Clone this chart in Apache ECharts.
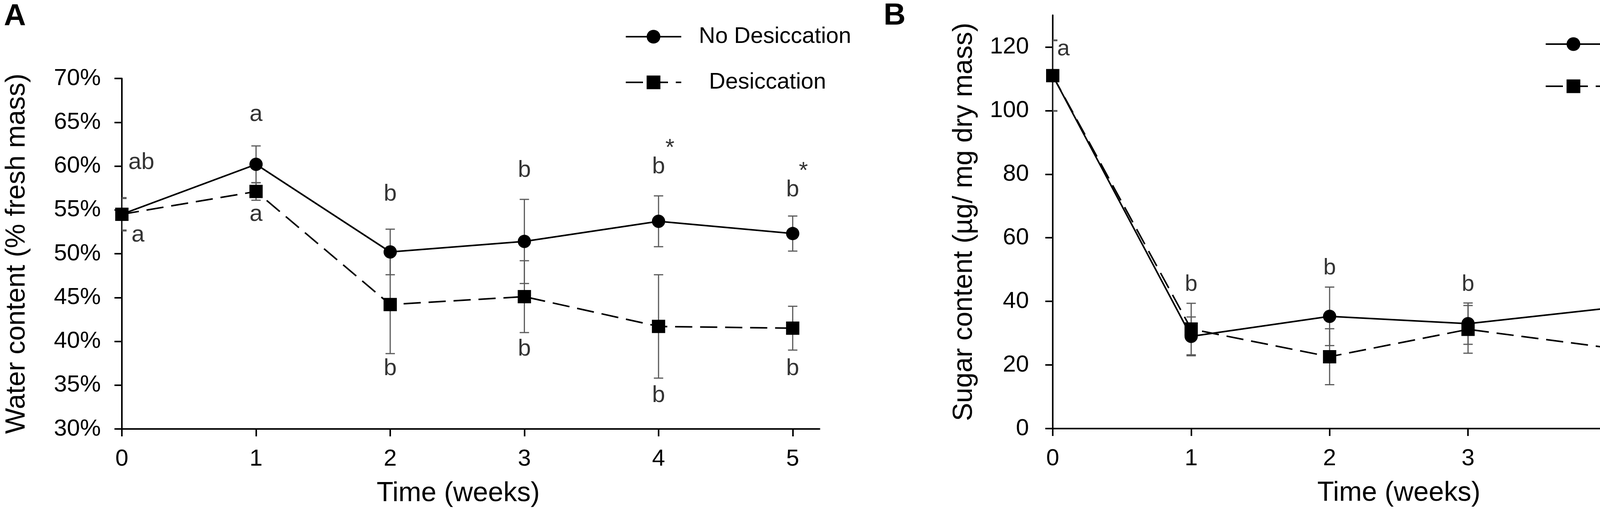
<!DOCTYPE html>
<html>
<head>
<meta charset="utf-8">
<script src="https://cdn.jsdelivr.net/npm/echarts@6/dist/echarts.min.js"></script>
<style>
  html, body { margin: 0; padding: 0; background: #fff; }
  #chart { width: 4550px; height: 1322px; }
</style>
</head>
<body>
<div id="chart"></div>
<script>
// panel A: water content (% fresh mass)
const weeksA = [0, 1, 2, 3, 4, 5];
const waterNoDes = [54.5, 60.2, 50.2, 51.4, 53.7, 52.3];
const waterNoDesErr = [1.9, 2.1, 2.6, 4.8, 2.9, 2.0];
const waterDes = [54.5, 57.1, 44.2, 45.1, 41.7, 41.5];
const waterDesErr = [1.8, 1.0, 5.6, 4.1, 5.9, 2.5];
// letters above / below points: [week, y, text]
const lettersA = [
  [0.145, 60.4, 'ab'], [0.12, 52.1, 'a'],
  [1, 65.9, 'a'], [1, 54.5, 'a'],
  [2, 56.8, 'b'], [2, 36.9, 'b'],
  [3, 59.5, 'b'], [3, 39.1, 'b'],
  [4, 59.9, 'b'], [4, 33.8, 'b'], [4.085, 62.0, '*'],
  [5, 57.3, 'b'], [5, 36.9, 'b'], [5.08, 59.4, '*']
];

// panel B: sugar content (µg/ mg dry mass)
const weeksB = [0, 1, 2, 3, 5];
const sugarNoDes = [111, 29.0, 35.3, 33.0, 42.6];
const sugarNoDesErr = [11.2, 6.1, 9.2, 6.5, 4.6];
const sugarDes = [111, 31.3, 22.6, 31.2, 19.8];
const sugarDesErr = [11.0, 8.1, 8.8, 7.5, 0.6];
const lettersB = [
  [0.077, 119.3, 'a'], [1, 45.3, 'b'], [2, 50.4, 'b'], [3, 45.3, 'b'], [5, 52.8, 'b']
];

const ticksA = [0, 1, 2, 3, 4, 5];
const ticksAy = [30, 35, 40, 45, 50, 55, 60, 65, 70];
const ticksBy = [0, 20, 40, 60, 80, 100, 120];

const FONT = "'Liberation Sans', Arial, sans-serif";
const BLACK = '#000';
const DASH = [44, 20];

function pairs(xs, ys) {
  return xs.map((x, i) => [x, ys[i]]);
}
function triples(xs, ys, es) {
  return xs.map((x, i) => [x, ys[i], es[i]]);
}

function errorBars(params, api) {
  const x = api.value(0), y = api.value(1), e = api.value(2);
  const top = api.coord([x, y + e]);
  const bot = api.coord([x, y - e]);
  const half = 12;
  const style = { stroke: '#5a5a5a', lineWidth: 3 };
  return {
    type: 'group',
    children: [
      { type: 'line', shape: { x1: top[0], y1: top[1], x2: bot[0], y2: bot[1] }, style },
      { type: 'line', shape: { x1: top[0] - half, y1: top[1], x2: top[0] + half, y2: top[1] }, style },
      { type: 'line', shape: { x1: bot[0] - half, y1: bot[1], x2: bot[0] + half, y2: bot[1] }, style }
    ]
  };
}

function lineSeries(name, idx, data, symbol, dashed) {
  return {
    name, type: 'line', xAxisIndex: idx, yAxisIndex: idx,
    data, symbol, symbolSize: 34, z: 3,
    lineStyle: { color: BLACK, width: 4, type: dashed ? DASH : 'solid' },
    itemStyle: { color: BLACK }
  };
}

function errSeries(idx, data) {
  return {
    type: 'custom', xAxisIndex: idx, yAxisIndex: idx, clip: true, z: 2,
    renderItem: errorBars, data
  };
}

function letterSeries(idx, data, size) {
  return {
    type: 'scatter', xAxisIndex: idx, yAxisIndex: idx, z: 4,
    symbolSize: 1, itemStyle: { color: 'rgba(0,0,0,0)' },
    data,
    label: {
      show: true, position: 'inside', color: BLACK, fontSize: size, fontFamily: FONT,
      formatter: p => p.value[2]
    }
  };
}

function axisCommon() {
  return {
    axisLine: { lineStyle: { color: BLACK, width: 4 } },
    axisTick: { lineStyle: { color: BLACK, width: 4 }, length: 19 },
    splitLine: { show: false },
    axisLabel: { color: BLACK, fontSize: 60, fontFamily: FONT },
    nameTextStyle: { color: BLACK, fontSize: 70, fontFamily: FONT }
  };
}

function legendFor(left, top, gap, pad1, pad2) {
  return {
    orient: 'vertical', left, top, itemGap: gap,
    itemWidth: 142, itemHeight: 44,
    data: ['No Desiccation', 'Desiccation'],
    lineStyle: { width: 4 },
    formatter: name => name === 'Desiccation' ? '{d|' + name + '}' : '{n|' + name + '}',
    textStyle: {
      color: BLACK, fontSize: 58, fontFamily: FONT,
      rich: {
        n: { fontSize: 58, fontFamily: FONT, color: BLACK, padding: [0, 0, 0, pad1] },
        d: { fontSize: 58, fontFamily: FONT, color: BLACK, padding: [0, 0, 0, pad2] }
      }
    }
  };
}

const xA = axisCommon();
const xB = axisCommon();
const yA = axisCommon();
const yB = axisCommon();

const option = {
  animation: false,
  backgroundColor: '#fff',
  textStyle: { fontFamily: FONT },
  title: [
    { text: 'A', left: 10, top: 4, padding: 0, textStyle: { fontSize: 78, fontWeight: 'bold', color: BLACK, fontFamily: FONT } },
    { text: 'B', left: 2262, top: 2, padding: 0, textStyle: { fontSize: 78, fontWeight: 'bold', color: BLACK, fontFamily: FONT } }
  ],
  legend: [
    legendFor(1595, 60, 59, 40, 66),
    legendFor(3950, 79, 50, 36, 56)
  ],
  grid: [
    { left: 312, top: 201, width: 1786, height: 898 },
    { left: 2695, top: 39, width: 1772, height: 1059 }
  ],
  xAxis: [
    Object.assign(xA, {
      type: 'value', gridIndex: 0, min: 0, max: 5.2, interval: 1,
      name: 'Time (weeks)', nameLocation: 'middle', nameGap: 131,
      nameTextStyle: Object.assign(xA.nameTextStyle, { padding: [0, 64, 0, 0] }),
      axisTick: Object.assign(xA.axisTick, { customValues: ticksA }),
      axisLabel: Object.assign(xA.axisLabel, { customValues: ticksA, margin: 47 })
    }),
    Object.assign(xB, {
      type: 'value', gridIndex: 1, min: 0, max: 5, interval: 1,
      name: 'Time (weeks)', nameLocation: 'middle', nameGap: 131,
      axisLabel: Object.assign(xB.axisLabel, { margin: 47 })
    })
  ],
  yAxis: [
    Object.assign(yA, {
      type: 'value', gridIndex: 0, min: 30, max: 70, interval: 5,
      name: 'Water content (% fresh mass)', nameLocation: 'middle', nameGap: 233,
      axisTick: Object.assign(yA.axisTick, { customValues: ticksAy }),
      axisLabel: Object.assign(yA.axisLabel, { customValues: ticksAy, margin: 54, formatter: '{value}%' })
    }),
    Object.assign(yB, {
      type: 'value', gridIndex: 1, min: 0, max: 130, interval: 20,
      name: 'Sugar content (µg/ mg dry mass)', nameLocation: 'middle', nameGap: 191,
      axisTick: Object.assign(yB.axisTick, { customValues: ticksBy }),
      axisLabel: Object.assign(yB.axisLabel, { customValues: ticksBy, margin: 61 })
    })
  ],
  series: [
    errSeries(0, triples(weeksA, waterNoDes, waterNoDesErr)),
    errSeries(0, triples(weeksA, waterDes, waterDesErr)),
    lineSeries('No Desiccation', 0, pairs(weeksA, waterNoDes), 'circle', false),
    lineSeries('Desiccation', 0, pairs(weeksA, waterDes), 'rect', true),
    letterSeries(0, lettersA, 60),

    errSeries(1, triples(weeksB, sugarNoDes, sugarNoDesErr)),
    errSeries(1, triples(weeksB, sugarDes, sugarDesErr)),
    lineSeries('No Desiccation', 1, pairs(weeksB, sugarNoDes), 'circle', false),
    lineSeries('Desiccation', 1, pairs(weeksB, sugarDes), 'rect', true),
    letterSeries(1, lettersB, 58)
  ]
};

const chart = echarts.init(document.getElementById('chart'), null, { renderer: 'canvas' });
chart.setOption(option);
</script>
</body>
</html>
